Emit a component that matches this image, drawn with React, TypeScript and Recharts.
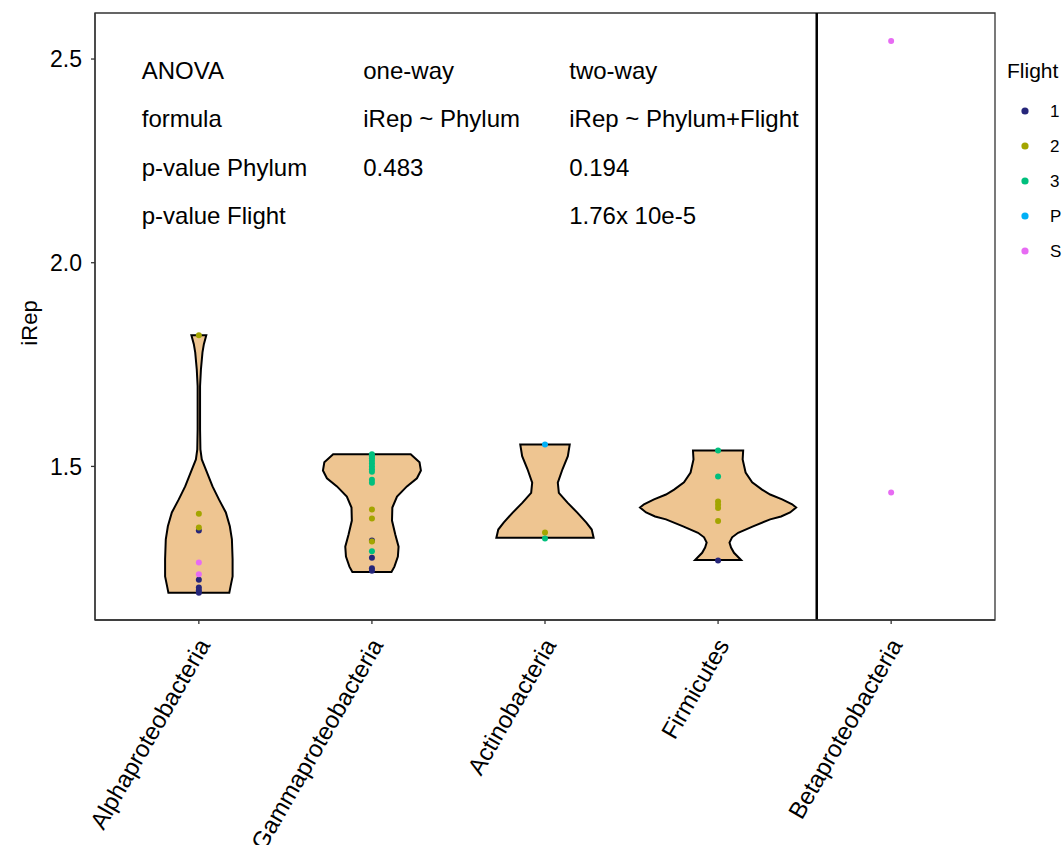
import React from 'react';
import { ComposedChart, Scatter, XAxis, YAxis, ReferenceLine, ReferenceArea, Customized } from 'recharts';

// ---------- data ----------
const phyla = ['Alphaproteobacteria', 'Gammaproteobacteria', 'Actinobacteria', 'Firmicutes', 'Betaproteobacteria'];
const flights = ['1', '2', '3', 'P', 'S'];
const flightColors = ['#26267A', '#A3A500', '#00BF7D', '#00B0F6', '#E76BF3'];
const yTicks = [1.5, 2.0, 2.5];

const flight1Points = [
  { phylum: 'Alphaproteobacteria', iRep: 1.343 },
  { phylum: 'Alphaproteobacteria', iRep: 1.222 },
  { phylum: 'Alphaproteobacteria', iRep: 1.203 },
  { phylum: 'Alphaproteobacteria', iRep: 1.196 },
  { phylum: 'Alphaproteobacteria', iRep: 1.19 },
  { phylum: 'Gammaproteobacteria', iRep: 1.318 },
  { phylum: 'Gammaproteobacteria', iRep: 1.276 },
  { phylum: 'Gammaproteobacteria', iRep: 1.25 },
  { phylum: 'Gammaproteobacteria', iRep: 1.244 },
  { phylum: 'Firmicutes', iRep: 1.269 },
];
const flight2Points = [
  { phylum: 'Alphaproteobacteria', iRep: 1.822 },
  { phylum: 'Alphaproteobacteria', iRep: 1.384 },
  { phylum: 'Alphaproteobacteria', iRep: 1.35 },
  { phylum: 'Gammaproteobacteria', iRep: 1.394 },
  { phylum: 'Gammaproteobacteria', iRep: 1.372 },
  { phylum: 'Gammaproteobacteria', iRep: 1.316 },
  { phylum: 'Actinobacteria', iRep: 1.338 },
  { phylum: 'Firmicutes', iRep: 1.414 },
  { phylum: 'Firmicutes', iRep: 1.406 },
  { phylum: 'Firmicutes', iRep: 1.398 },
  { phylum: 'Firmicutes', iRep: 1.366 },
];
const flight3Points = [
  { phylum: 'Gammaproteobacteria', iRep: 1.53 },
  { phylum: 'Gammaproteobacteria', iRep: 1.525 },
  { phylum: 'Gammaproteobacteria', iRep: 1.52 },
  { phylum: 'Gammaproteobacteria', iRep: 1.514 },
  { phylum: 'Gammaproteobacteria', iRep: 1.507 },
  { phylum: 'Gammaproteobacteria', iRep: 1.5 },
  { phylum: 'Gammaproteobacteria', iRep: 1.493 },
  { phylum: 'Gammaproteobacteria', iRep: 1.487 },
  { phylum: 'Gammaproteobacteria', iRep: 1.467 },
  { phylum: 'Gammaproteobacteria', iRep: 1.46 },
  { phylum: 'Gammaproteobacteria', iRep: 1.292 },
  { phylum: 'Actinobacteria', iRep: 1.323 },
  { phylum: 'Firmicutes', iRep: 1.539 },
  { phylum: 'Firmicutes', iRep: 1.475 },
];
const flightPPoints = [
  { phylum: 'Actinobacteria', iRep: 1.554 },
];
const flightSPoints = [
  { phylum: 'Alphaproteobacteria', iRep: 1.264 },
  { phylum: 'Alphaproteobacteria', iRep: 1.235 },
  { phylum: 'Betaproteobacteria', iRep: 2.544 },
  { phylum: 'Betaproteobacteria', iRep: 1.436 },
];
const flightPoints = [flight1Points, flight2Points, flight3Points, flightPPoints, flightSPoints];

// violin outlines: iRep levels (top to bottom) and half widths (in category units)
const alphaLevels = [1.822, 1.8, 1.78, 1.738, 1.697, 1.591, 1.542, 1.517, 1.493, 1.451, 1.419, 1.387, 1.353, 1.321, 1.272, 1.23, 1.205, 1.19];
const alphaHalfWidths = [0.043, 0.029, 0.021, 0.012, 0.007, 0.007, 0.009, 0.017, 0.04, 0.079, 0.116, 0.156, 0.179, 0.191, 0.195, 0.195, 0.183, 0.176];
const gammaLevels = [1.53, 1.51, 1.49, 1.471, 1.451, 1.426, 1.399, 1.367, 1.333, 1.303, 1.279, 1.254, 1.241];
const gammaHalfWidths = [0.224, 0.275, 0.283, 0.26, 0.202, 0.145, 0.118, 0.116, 0.135, 0.154, 0.15, 0.13, 0.113];
const actinoLevels = [1.554, 1.525, 1.493, 1.46, 1.435, 1.411, 1.386, 1.362, 1.345, 1.325];
const actinoHalfWidths = [0.143, 0.132, 0.101, 0.074, 0.08, 0.13, 0.188, 0.239, 0.27, 0.281];
const firmLevels = [1.539, 1.517, 1.485, 1.461, 1.443, 1.431, 1.419, 1.407, 1.399, 1.387, 1.377, 1.37, 1.353, 1.337, 1.326, 1.313, 1.301, 1.288, 1.27];
const firmHalfWidths = [0.145, 0.142, 0.159, 0.197, 0.254, 0.301, 0.37, 0.428, 0.451, 0.416, 0.364, 0.301, 0.202, 0.116, 0.081, 0.066, 0.075, 0.092, 0.133];
const violinLevels = [alphaLevels, gammaLevels, actinoLevels, firmLevels];
const violinHalfWidths = [alphaHalfWidths, gammaHalfWidths, actinoHalfWidths, firmHalfWidths];

// annotation table
const anovaRowLabels = ['ANOVA', 'formula', 'p-value Phylum', 'p-value Flight'];
const oneWayColumn = ['one-way', 'iRep ~ Phylum', '0.483', ''];
const twoWayColumn = ['two-way', 'iRep ~ Phylum+Flight', '0.194', '1.76x 10e-5'];
const separatorAt = 4.57;

// ---------- layout ----------
const W = 1062;
const H = 845;
const X_DOMAIN = [0.4, 5.6];
const Y_DOMAIN = [1.123, 2.613];
const FONT = '"Liberation Sans", Arial, Helvetica, sans-serif';
const annColX = [0.67, 1.95, 3.14];
const annRowY = [2.451, 2.332, 2.213, 2.094];

const violinData = violinLevels.map((levels, vi) => {
  const c = vi + 1;
  const hw = violinHalfWidths[vi];
  const right = levels.map((y, i) => ({ x: c + hw[i], y }));
  const left = levels.map((y, i) => ({ x: c - hw[i], y })).reverse();
  return [...right, ...left];
});

const pointData = flightPoints.map((arr) => arr.map((p) => ({ x: phyla.indexOf(p.phylum) + 1, y: p.iRep })));

const annData = [anovaRowLabels, oneWayColumn, twoWayColumn].flatMap((col, ci) =>
  col.map((t, ri) => ({ x: annColX[ci], y: annRowY[ri], text: t }))
);

const XTick = (props: any) => {
  const { x, y, payload } = props;
  const tx = x + 12;
  const ty = y + 19;
  return (
    <text x={tx} y={ty} transform={`rotate(-60 ${tx} ${ty})`} textAnchor="end" fontSize={24} fill="#000" fontFamily={FONT}>
      {phyla[payload.value - 1]}
    </text>
  );
};

const Overlay = () => (
  <g fontFamily={FONT}>
    <text x={37} y={323} transform="rotate(-90 37 323)" textAnchor="middle" fontSize={22} fill="#000">iRep</text>
    <text x={1007} y={78} fontSize={21} fill="#000">Flight</text>
    {flights.map((f, i) => (
      <g key={f}>
        <circle cx={1025} cy={111 + 35 * i} r={3.6} fill={flightColors[i]} />
        <text x={1050} y={111 + 35 * i + 6} fontSize={17} fill="#000">{f}</text>
      </g>
    ))}
  </g>
);

export default function App() {
  return (
    <div style={{ position: 'absolute', left: 0, top: 0, width: W, height: H, background: '#fff' }}>
      <ComposedChart width={W} height={H} margin={{ top: 13, right: 67, bottom: 0, left: 0 }}>
        <XAxis
          type="number"
          dataKey="x"
          domain={X_DOMAIN}
          ticks={[1, 2, 3, 4, 5]}
          allowDataOverflow
          height={225}
          tick={<XTick />}
          tickSize={4}
          tickMargin={2}
          axisLine={{ stroke: '#333', strokeWidth: 1.3 }}
          tickLine={{ stroke: '#333', strokeWidth: 1.3 }}
        />
        <YAxis
          type="number"
          dataKey="y"
          domain={Y_DOMAIN}
          ticks={yTicks}
          allowDataOverflow
          width={95}
          tickSize={4}
          tickMargin={9}
          tickFormatter={(v: number) => v.toFixed(1)}
          tick={{ fontSize: 23, fill: '#000', fontFamily: FONT }}
          axisLine={{ stroke: '#333', strokeWidth: 1.3 }}
          tickLine={{ stroke: '#333', strokeWidth: 1.3 }}
        />
        <ReferenceArea x1={X_DOMAIN[0]} x2={X_DOMAIN[1]} y1={Y_DOMAIN[0]} y2={Y_DOMAIN[1]} fill="none" fillOpacity={0} stroke="#333" strokeWidth={1.3} ifOverflow="visible" />
        {violinData.map((d, i) => (
          <Scatter
            key={'v' + i}
            data={d}
            line={{ fill: '#EEC591', stroke: '#000', strokeWidth: 2 }}
            lineJointType="linearClosed"
            shape={() => <g />}
            legendType="none"
            isAnimationActive={false}
          />
        ))}
        <ReferenceLine x={separatorAt} stroke="#000" strokeWidth={2.5} />
        {pointData.map((d, i) => (
          <Scatter
            key={'p' + i}
            name={flights[i]}
            data={d}
            fill={flightColors[i]}
            shape={(p: any) => <circle cx={p.cx} cy={p.cy} r={3} fill={flightColors[i]} />}
            isAnimationActive={false}
          />
        ))}
        <Scatter
          data={annData}
          shape={(p: any) => (
            <text x={p.cx} y={p.cy} fontSize={24} fill="#000" fontFamily={FONT}>
              {p.payload.text}
            </text>
          )}
          legendType="none"
          isAnimationActive={false}
        />
        <Customized component={<Overlay />} />
      </ComposedChart>
    </div>
  );
}
